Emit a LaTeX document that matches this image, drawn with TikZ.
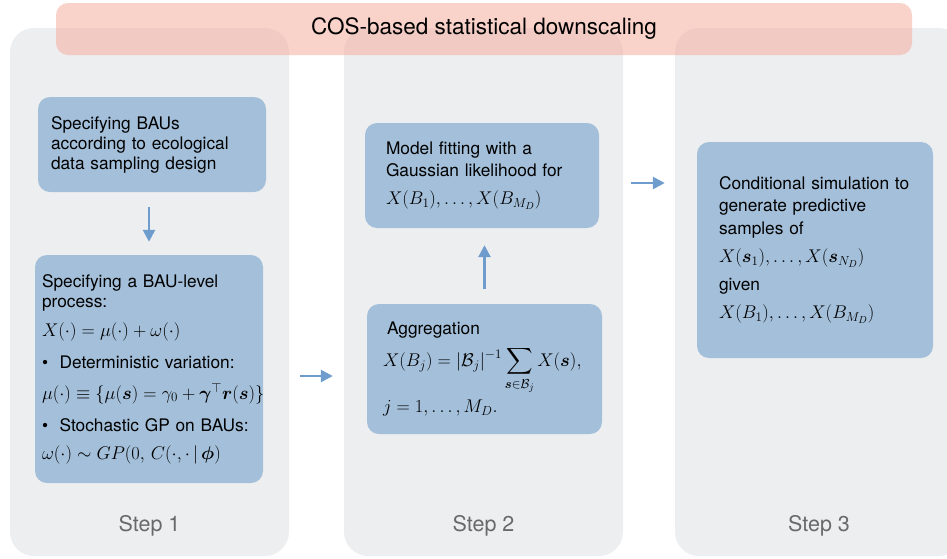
\RequirePackage{fix-cm}
\documentclass[tikz,border=0pt]{standalone}
\usepackage{amsmath,amssymb,bm}
\usepackage[no-math]{fontspec}
\setmainfont{TeX Gyre Heros}
\usetikzlibrary{arrows.meta,positioning}
\DeclareMathSizes{17.3}{18.4}{13}{10}
\definecolor{panelgray}{RGB}{237,238,240}
\definecolor{boxblue}{RGB}{163,191,217}
\definecolor{arrowblue}{RGB}{110,157,205}
\definecolor{bannerpink}{RGB}{245,180,165}
\definecolor{steptext}{RGB}{105,105,105}

\begin{document}
\begin{tikzpicture}[x=1pt,y=-1pt,
    panel/.style={fill=panelgray,rounded corners=24pt,minimum height=528pt,inner sep=0pt},
    blk/.style={fill=boxblue,rounded corners=12pt,align=left,inner ysep=0pt,font=\fontsize{17.3}{20}\selectfont},
    flow/.style={draw=arrowblue,line width=2.6pt,-{Triangle[length=12pt,width=12pt]}},
    steplbl/.style={text=steptext,font=\fontsize{21.5}{24}\selectfont}]
  \useasboundingbox (0,0) rectangle (947,558);
  \clip (0,0) rectangle (947,558);
  \node[panel,minimum width=279pt] (p1) at (149.5,292) {};
  \node[panel,minimum width=279pt] (p2) at (483.5,292) {};
  \node[panel,minimum width=288pt] (p3) at (819,292) {};
  \node[fill=bannerpink,fill opacity=0.6,text opacity=1,rounded corners=12pt,
        minimum width=856pt,minimum height=52pt,font=\fontsize{22.5}{26}\selectfont] (title) at (484,29) {COS-based statistical downscaling};

  \node[blk,text width=202pt,inner xsep=13pt,minimum height=95pt] (bau) at (152,144.5)
    {Specifying BAUs\\ according to ecological\\ data sampling design};
  \node[blk,text width=214pt,inner xsep=7pt,minimum height=228pt] (proc) at (149,369)
    {Specifying a BAU-level\\ process:\\[9pt]
     $X(\cdot)=\mu(\cdot)+\omega(\cdot)$\\[12pt]
     \textbullet\ \ Deterministic variation:\\[11pt]
     \mbox{$\mu(\cdot)\equiv\{\mu(\bm s)=\gamma_0+\bm\gamma^\top\bm r(\bm s)\}$}\\[12pt]
     \textbullet\ \ Stochastic GP on BAUs:\\[8pt]
     $\omega(\cdot)\sim GP(0,\,C(\cdot,\cdot\,|\,\bm\phi)$};
  \node[blk,text width=203pt,inner xsep=16pt,minimum height=130pt] (agg) at (484.5,369)
    {\hspace{4pt}Aggregation\\[8pt]
     $\displaystyle X(B_j)=|\mathcal B_j|^{-1}\sum_{\bm s\in\mathcal B_j}X(\bm s),$\\[5pt]
     $j=1,\ldots,M_D.$};
  \node[blk,text width=192pt,inner xsep=21pt,minimum height=105pt,font=\fontsize{17.3}{22.5}\selectfont] (fit) at (482,175.5)
    {Model fitting with a\\ Gaussian likelihood for\\[5pt]
     $X(B_1),\ldots,X(B_{M_D})$};
  \node[blk,text width=192pt,inner xsep=22pt,minimum height=216pt,font=\fontsize{17.3}{22.5}\selectfont] (sim) at (815,250)
    {Conditional simulation to\\ generate predictive\\ samples of\\[6pt]
     $X(\bm s_1),\ldots,X(\bm s_{N_D})$\\[5pt]
     given\\[6pt]
     $X(B_1),\ldots,X(B_{M_D})$};

  \foreach \p/\n in {p1/1,p2/2,p3/3}
    \node[steplbl] (s\n) at ([yshift=30pt]\p.south) {Step \n};

  \draw[flow,shorten <=15pt,shorten >=13pt] (proc.north |- bau.south) -- (proc.north);
  \draw[flow,shorten <=15pt,shorten >=17pt] (agg.north) -- (agg.north |- fit.south);
  \draw[flow,shorten <=11pt,shorten >=11pt] ([yshift=-84pt]p1.east) -- ([yshift=-84pt]p2.west);
  \draw[flow,shorten <=8pt,shorten >=10pt] ([yshift=109pt]p2.east) -- ([yshift=109pt]p3.west);
\end{tikzpicture}
\end{document}
